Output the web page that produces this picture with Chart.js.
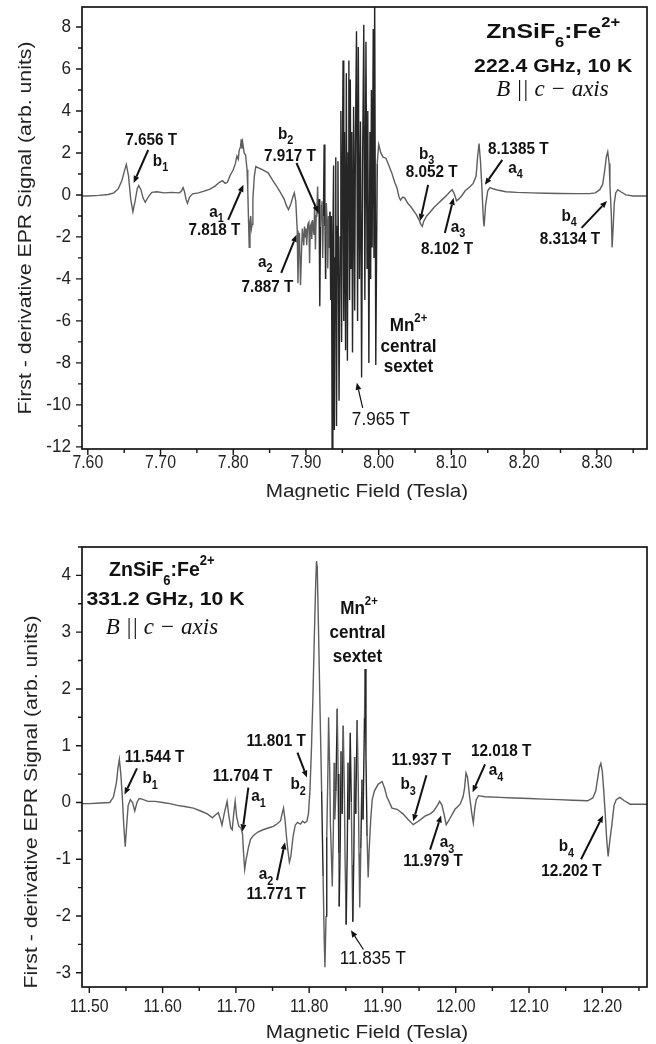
<!DOCTYPE html>
<html>
<head>
<meta charset="utf-8">
<title>ZnSiF6:Fe2+ HF-EPR spectra</title>
<script src="https://cdn.jsdelivr.net/npm/chart.js@4.4.1/dist/chart.umd.min.js"></script>
<style>
  html, body { margin: 0; padding: 0; background: #fff; }
  #wrap { position: relative; width: 656px; height: 1044px; }
  canvas { position: absolute; left: 0; }
  #spec222 { top: 0; }
  #spec331 { top: 500px; }
</style>
</head>
<body>
<div id="wrap">
  <canvas id="spec222" width="656" height="500"></canvas>
  <canvas id="spec331" width="656" height="544"></canvas>
</div>
<script>
const SANS = '"Liberation Sans", Arial, Helvetica, sans-serif';
const SERIF = '"Liberation Serif", "Times New Roman", Times, serif';

// 222.4 GHz spectrum, [field (T), first-derivative signal]
const spectrum222 = [
  [7.592,-0.05],[7.600,-0.05],[7.615,-0.02],[7.628,0.02],[7.636,0.1],[7.642,0.3],[7.647,0.7],[7.650,1.1],
  [7.653,1.45],[7.656,0.9],[7.659,-0.2],[7.662,-0.8],[7.665,-0.3],[7.668,0.3],[7.670,0.45],[7.673,0.25],
  [7.676,-0.15],[7.679,-0.35],[7.683,-0.1],[7.688,0.12],[7.695,0.15],[7.705,0.1],[7.715,0.12],[7.726,0.1],
  [7.729,0.2],[7.731,0.35],[7.733,0.15],[7.735,-0.2],[7.737,-0.4],[7.740,-0.1],[7.744,0.05],[7.752,0.1],
  [7.760,0.18],[7.768,0.28],[7.775,0.42],[7.781,0.6],[7.785,0.68],[7.789,0.55],[7.792,0.6],[7.796,0.95],
  [7.800,1.2],[7.803,1.5],[7.805,1.85],[7.807,1.7],[7.808,2.1],[7.810,2.3],[7.811,2.65],[7.812,2.2],
  [7.813,2.5],[7.815,2.0],[7.817,1.9],[7.819,1.2],[7.820,0.2],[7.821,-1.2],[7.822,-2.5],[7.823,-1.3],
  [7.824,-1.0],[7.825,-1.6],[7.826,-1.4],[7.827,-0.2],[7.829,0.9],[7.831,1.35],[7.834,1.3],[7.840,1.2],
  [7.848,1.05],[7.854,0.7],[7.860,0.4],[7.866,0.05],[7.870,-0.2],[7.873,-0.5],[7.876,-0.7],[7.879,-0.45],
  [7.882,-0.1],[7.884,0.1],[7.886,-0.3],[7.888,-1.7],[7.889,-4.2],[7.890,-2.2],[7.891,-1.8],[7.8925,-4.3],
  [7.894,-2.6],[7.895,-1.6],[7.897,-2.4],[7.898,-1.5],[7.899,-2.0],[7.900,-1.6],[7.901,-2.4],[7.9025,-1.4],
  [7.904,-1.3],[7.905,-3.25],[7.906,-1.5],[7.907,-1.4],[7.908,-2.1],[7.909,-1.2],[7.910,-1.6],[7.911,-1.9],
  [7.912,-0.4],[7.913,-2.6],[7.914,-1.0],[7.915,-0.8],[7.916,0.4],[7.917,-0.9],[7.918,-0.2],[7.919,-5.3],
  [7.920,-1.5],[7.921,-0.5],[7.922,-0.3],[7.923,-3.0],[7.924,-1.0],[7.925,2.4],[7.926,-1.5],[7.927,-4.0],
  [7.928,-0.4],[7.929,-1.2],[7.930,-3.5],[7.931,-1.0],[7.932,-2.5],[7.933,-0.8],[7.934,-5.0],[7.935,-1.0],
  [7.936,-12.1],[7.937,-2.0],[7.938,1.4],[7.939,-11.2],[7.940,-3.0],[7.941,1.8],[7.942,-11.0],[7.943,-1.5],
  [7.944,1.6],[7.9455,-9.8],[7.947,-2.0],[7.948,4.0],[7.949,-7.0],[7.950,1.0],[7.951,6.4],[7.952,-6.0],
  [7.953,3.0],[7.9545,-7.4],[7.9555,5.8],[7.957,-7.9],[7.958,2.0],[7.959,6.4],[7.960,-5.0],[7.961,5.5],
  [7.962,-3.5],[7.963,3.0],[7.964,-7.5],[7.9655,4.2],[7.967,-5.5],[7.968,2.5],[7.9695,7.8],[7.971,-6.0],
  [7.972,7.05],[7.9735,-4.0],[7.975,3.5],[7.9765,-8.7],[7.978,2.0],[7.9795,8.1],[7.981,-5.0],[7.9825,7.3],
  [7.984,-3.5],[7.985,4.0],[7.9865,-8.0],[7.988,3.0],[7.989,-4.0],[7.990,5.0],[7.991,-2.5],[7.9925,7.9],
  [7.9935,-3.0],[7.9945,9.6],[7.996,-8.1],[7.998,1.5],[8.000,2.4],[8.003,2.0],[8.006,1.8],[8.010,1.75],
  [8.014,1.4],[8.018,1.05],[8.022,0.6],[8.025,0.35],[8.028,-0.1],[8.030,-0.25],[8.033,-0.1],[8.036,-0.15],
  [8.040,-0.4],[8.044,-0.55],[8.048,-0.75],[8.052,-0.95],[8.055,-1.15],[8.058,-1.4],[8.060,-1.5],[8.062,-1.25],
  [8.066,-1.0],[8.070,-0.85],[8.076,-0.6],[8.082,-0.4],[8.088,-0.2],[8.094,0.0],[8.098,0.15],[8.101,0.25],
  [8.104,0.05],[8.107,-0.28],[8.110,-0.2],[8.114,-0.05],[8.119,0.2],[8.125,0.38],[8.130,0.55],[8.134,0.9],
  [8.136,1.8],[8.138,2.45],[8.140,1.6],[8.142,0.3],[8.144,-1.2],[8.145,-1.5],[8.147,-0.5],[8.150,0.2],
  [8.153,0.35],[8.158,0.28],[8.165,0.22],[8.175,0.15],[8.190,0.12],[8.210,0.1],[8.230,0.08],[8.250,0.07],
  [8.270,0.06],[8.290,0.06],[8.298,0.1],[8.304,0.25],[8.308,0.5],[8.311,1.2],[8.313,1.8],[8.315,2.05],
  [8.317,1.5],[8.318,0.5],[8.320,-1.0],[8.321,-2.5],[8.3225,-1.5],[8.324,-0.4],[8.326,0.1],[8.329,0.25],
  [8.333,0.15],[8.340,0.0],[8.350,-0.05],[8.369,-0.05]
];

// 331.2 GHz spectrum, [field (T), first-derivative signal]
const spectrum331 = [
  [11.490,-0.02],[11.500,-0.02],[11.515,-0.01],[11.528,0.0],[11.533,0.1],[11.537,0.35],[11.539,0.6],[11.541,0.76],
  [11.543,0.5],[11.545,0.1],[11.547,-0.4],[11.549,-0.78],[11.551,-0.4],[11.553,-0.05],[11.556,0.05],[11.559,0.0],
  [11.562,-0.15],[11.565,0.0],[11.568,0.07],[11.572,0.06],[11.580,0.02],[11.590,0.02],[11.600,0.0],[11.610,-0.02],
  [11.620,-0.05],[11.630,-0.07],[11.642,-0.1],[11.652,-0.15],[11.661,-0.2],[11.668,-0.27],[11.672,-0.22],[11.676,-0.18],
  [11.679,-0.3],[11.681,-0.4],[11.684,-0.2],[11.688,0.02],[11.690,-0.2],[11.693,-0.45],[11.695,-0.48],[11.697,-0.2],
  [11.699,0.02],[11.701,-0.25],[11.704,-0.42],[11.707,-0.45],[11.709,-0.55],[11.7105,-0.9],[11.712,-1.18],[11.714,-1.0],
  [11.717,-0.8],[11.720,-0.65],[11.724,-0.58],[11.730,-0.52],[11.737,-0.48],[11.744,-0.45],[11.751,-0.42],[11.757,-0.37],
  [11.761,-0.32],[11.763,-0.2],[11.765,-0.1],[11.767,-0.3],[11.769,-0.6],[11.771,-0.85],[11.773,-1.05],[11.775,-0.95],
  [11.778,-0.6],[11.781,-0.4],[11.784,-0.35],[11.788,-0.38],[11.791,-0.33],[11.794,-0.36],[11.797,-0.33],[11.799,-0.2],
  [11.801,0.2],[11.803,0.9],[11.805,1.8],[11.807,2.9],[11.809,3.9],[11.810,4.25],[11.811,4.15],[11.8125,3.2],
  [11.814,2.2],[11.8155,1.2],[11.817,0.2],[11.819,-1.3],[11.8205,-2.4],[11.8215,-2.9],[11.823,-2.0],[11.824,-0.6],
  [11.8255,0.5],[11.8265,1.5],[11.828,0.6],[11.829,-0.4],[11.8305,-1.0],[11.8315,-1.48],[11.833,-0.5],[11.834,0.7],
  [11.835,-0.3],[11.8365,0.2],[11.8383,1.65],[11.8395,0.5],[11.8405,-0.9],[11.841,-1.83],[11.8425,-0.6],[11.8435,0.9],
  [11.845,-0.2],[11.8465,1.35],[11.848,0.2],[11.849,-1.0],[11.8505,-2.15],[11.852,-0.8],[11.853,0.7],[11.8545,-0.3],
  [11.856,1.23],[11.8575,0.0],[11.8585,-1.1],[11.8595,-2.1],[11.861,-0.9],[11.862,0.8],[11.8635,-0.2],[11.8655,1.45],
  [11.867,0.3],[11.868,-0.9],[11.869,-1.85],[11.8705,-0.8],[11.872,0.4],[11.8735,-0.3],[11.8755,1.5],[11.8765,2.35],
  [11.8775,0.8],[11.879,-0.6],[11.8805,-1.32],[11.882,-0.8],[11.884,-0.3],[11.886,0.05],[11.889,0.2],[11.894,0.32],
  [11.8995,0.37],[11.903,0.25],[11.906,0.1],[11.913,-0.1],[11.920,-0.12],[11.928,-0.2],[11.935,-0.3],[11.942,-0.39],
  [11.949,-0.33],[11.958,-0.24],[11.965,-0.2],[11.970,-0.15],[11.975,-0.05],[11.978,0.02],[11.981,-0.04],[11.984,-0.2],
  [11.987,-0.39],[11.990,-0.33],[11.993,-0.26],[11.999,-0.12],[12.006,-0.03],[12.010,0.1],[12.012,0.25],[12.014,0.52],
  [12.016,0.45],[12.019,0.1],[12.022,-0.2],[12.024,-0.36],[12.026,-0.1],[12.028,0.05],[12.031,0.12],[12.040,0.1],
  [12.060,0.09],[12.080,0.08],[12.100,0.07],[12.120,0.06],[12.140,0.05],[12.160,0.04],[12.180,0.03],[12.187,0.08],
  [12.191,0.2],[12.194,0.45],[12.196,0.62],[12.198,0.69],[12.200,0.55],[12.202,0.2],[12.204,-0.2],[12.206,-0.65],
  [12.208,-0.95],[12.210,-0.7],[12.213,-0.4],[12.216,-0.05],[12.219,0.05],[12.224,0.09],[12.230,0.03],[12.238,-0.03],
  [12.261,-0.03]
];

// axis ticks
const field222Ticks = [7.60, 7.70, 7.80, 7.90, 8.00, 8.10, 8.20, 8.30];
const signal222Ticks = [-12, -10, -8, -6, -4, -2, 0, 2, 4, 6, 8];
const field331Ticks = [11.50, 11.60, 11.70, 11.80, 11.90, 12.00, 12.10, 12.20];
const signal331Ticks = [-3, -2, -1, 0, 1, 2, 3, 4];

// line assignments: [text, field, signal, style]; "_" = subscript, "^" = superscript
const labels222 = [
  ['7.656 T', 7.687, 2.62, 'tag'], ['b_1', 7.700, 1.62, 'tag'],
  ['a_1', 7.777, -0.81, 'tag'], ['7.818 T', 7.774, -1.67, 'tag'],
  ['b_2', 7.872, 2.90, 'tag'], ['7.917 T', 7.878, 1.86, 'tag'],
  ['a_2', 7.844, -3.19, 'tag'], ['7.887 T', 7.847, -4.38, 'tag'],
  ['b_3', 8.066, 1.95, 'tag'], ['8.052 T', 8.073, 1.10, 'tag'],
  ['a_3', 8.109, -1.52, 'tag'], ['8.102 T', 8.094, -2.57, 'tag'],
  ['8.1385 T', 8.192, 2.19, 'tag'], ['a_4', 8.188, 1.29, 'tag'],
  ['b_4', 8.262, -1.0, 'tag'], ['8.3134 T', 8.263, -2.10, 'tag'],
  ['Mn^2+', 8.041, -6.24, 'mn'], ['central', 8.041, -7.24, 'mn'], ['sextet', 8.041, -8.19, 'mn'],
  ['7.965 T', 8.003, -10.71, 'plain'],
  ['ZnSiF_6:Fe^2+', 8.240, 7.76, 'titleWide'],
  ['222.4 GHz, 10 K', 8.240, 6.10, 'cond'],
  ['B || c \u2212 axis', 8.239, 5.0, 'orient']
];
// arrows: [from field, from signal, to field, to signal, weight]
const arrows222 = [
  [7.683, 2.14, 7.663, 0.57, 'bold'], [7.793, -1.19, 7.814, 0.48, 'bold'],
  [7.887, 1.52, 7.917, -0.86, 'bold'], [7.866, -3.71, 7.887, -1.90, 'bold'],
  [8.068, 0.48, 8.057, -1.24, 'bold'], [8.091, -1.81, 8.103, -0.14, 'bold'],
  [8.170, 1.67, 8.146, 0.48, 'bold'], [8.279, -1.57, 8.314, -0.29, 'bold'],
  [7.978, -10.14, 7.970, -8.95, 'thin']
];

const labels331 = [
  ['11.544 T', 11.589, 0.79, 'tag'], ['b_1', 11.583, 0.42, 'tag'],
  ['11.704 T', 11.709, 0.46, 'tag'], ['a_1', 11.731, 0.11, 'tag'],
  ['11.801 T', 11.755, 1.07, 'tag'], ['b_2', 11.785, 0.32, 'tag'],
  ['a_2', 11.741, -1.27, 'tag'], ['11.771 T', 11.755, -1.62, 'tag'],
  ['11.937 T', 11.953, 0.74, 'tag'], ['b_3', 11.935, 0.32, 'tag'],
  ['12.018 T', 12.062, 0.90, 'tag'], ['a_4', 12.055, 0.56, 'tag'],
  ['a_3', 11.988, -0.70, 'tag'], ['11.979 T', 11.969, -1.04, 'tag'],
  ['b_4', 12.151, -0.77, 'tag'], ['12.202 T', 12.158, -1.21, 'tag'],
  ['Mn^2+', 11.868, 3.40, 'mn'], ['central', 11.866, 2.99, 'mn'], ['sextet', 11.866, 2.57, 'mn'],
  ['11.835 T', 11.887, -2.76, 'plain'],
  ['ZnSiF_6:Fe^2+', 11.599, 4.10, 'title'],
  ['331.2 GHz, 10 K', 11.604, 3.56, 'cond'],
  ['B || c \u2212 axis', 11.599, 3.08, 'orient']
];
const arrows331 = [
  [11.565, 0.60, 11.548, 0.14, 'bold'], [11.717, 0.26, 11.709, -0.51, 'bold'],
  [11.784, 0.88, 11.797, 0.44, 'bold'], [11.756, -1.37, 11.767, -0.70, 'bold'],
  [11.960, 0.48, 11.942, -0.33, 'bold'], [12.040, 0.67, 12.023, 0.18, 'bold'],
  [11.965, -0.83, 11.980, -0.23, 'bold'], [12.171, -1.0, 12.201, -0.23, 'bold'],
  [11.874, -2.59, 11.857, -2.25, 'thin']
];

const textStyles = {
  tag:       { weight: 'bold',   size: 17, family: SANS,  sx: 0.9,  sub: 0.42 },
  plain:     { weight: 'normal', size: 18, family: SANS,  sx: 0.95, sub: 0.42 },
  mn:        { weight: 'bold',   size: 18, family: SANS,  sx: 0.95, sub: 0.42 },
  title:     { weight: 'bold',   size: 21, family: SANS,  sx: 0.93, sub: 0.55 },
  titleWide: { weight: 'bold',   size: 21, family: SANS,  sx: 1.18, sub: 0.55 },
  cond:      { weight: 'bold',   size: 18, family: SANS,  sx: 1.18, sub: 0.42 },
  orient:    { weight: 'normal', size: 23, family: SERIF, sx: 1,    sub: 0.42, italic: true }
};

function parseRich(s) {
  const parts = [];
  let buf = '';
  for (let i = 0; i < s.length; i++) {
    const c = s[i];
    if (c === '_') {
      if (buf) parts.push({ t: buf, k: 0 });
      buf = '';
      parts.push({ t: s[i + 1], k: 1 });
      i++;
    } else if (c === '^') {
      if (buf) parts.push({ t: buf, k: 0 });
      buf = '';
      parts.push({ t: s.slice(i + 1), k: -1 });
      break;
    } else {
      buf += c;
    }
  }
  if (buf) parts.push({ t: buf, k: 0 });
  return parts;
}

function fontFor(st, size) {
  return `${st.italic ? 'italic ' : ''}${st.weight} ${size}px ${st.family}`;
}

function drawRich(ctx, text, x, y, st) {
  const parts = parseRich(text);
  const small = Math.round(st.size * 0.68);
  let total = 0;
  parts.forEach(p => {
    ctx.font = fontFor(st, p.k === 0 ? st.size : small);
    p.w = ctx.measureText(p.t).width;
    total += p.w;
  });
  ctx.save();
  ctx.translate(x, y);
  ctx.scale(st.sx, 1);
  ctx.textAlign = 'left';
  ctx.textBaseline = 'middle';
  let cx = -total / 2;
  parts.forEach(p => {
    ctx.font = fontFor(st, p.k === 0 ? st.size : small);
    const dy = p.k === 1 ? st.sub * st.size : p.k === -1 ? -0.42 * st.size : 0;
    ctx.fillText(p.t, cx, dy);
    cx += p.w;
  });
  ctx.restore();
}

function drawArrow(ctx, x1, y1, x2, y2, weight) {
  const w = weight === 'bold' ? 2 : 1.2;
  const head = 7;
  const ang = Math.atan2(y2 - y1, x2 - x1);
  const bx = x2 - head * Math.cos(ang), by = y2 - head * Math.sin(ang);
  ctx.lineWidth = w;
  ctx.beginPath();
  ctx.moveTo(x1, y1);
  ctx.lineTo(bx, by);
  ctx.stroke();
  const hw = head * 0.42;
  ctx.beginPath();
  ctx.moveTo(x2, y2);
  ctx.lineTo(bx + hw * Math.sin(ang), by - hw * Math.cos(ang));
  ctx.lineTo(bx - hw * Math.sin(ang), by + hw * Math.cos(ang));
  ctx.closePath();
  ctx.fill();
}

function minorTicks(major, min, max) {
  const step = major[1] - major[0];
  return [major[0] - step / 2].concat(major.map(v => v + step / 2))
    .filter(v => v >= min - 1e-9 && v <= max + 1e-9);
}

function stretchedText(ctx, text, x, y, font, sx, rotate, align) {
  ctx.save();
  ctx.translate(x, y);
  if (rotate) ctx.rotate(-Math.PI / 2);
  ctx.scale(sx, 1);
  ctx.font = font;
  ctx.textAlign = align || 'center';
  ctx.textBaseline = 'middle';
  ctx.fillText(text, 0, 0);
  ctx.restore();
}

// frame, ticks, axis text and line assignments
function decorations(panel) {
  return {
    id: 'decorations',
    afterDraw(chart) {
      const ctx = chart.ctx;
      const a = chart.chartArea;
      const xs = chart.scales.x, ys = chart.scales.y;
      ctx.save();
      ctx.strokeStyle = '#161616';
      ctx.fillStyle = '#161616';
      ctx.lineWidth = 1.7;
      ctx.strokeRect(a.left, a.top, a.right - a.left, a.bottom - a.top);

      ctx.lineWidth = 1.4;
      ctx.beginPath();
      panel.xTicks.forEach(v => {
        const p = xs.getPixelForValue(v);
        ctx.moveTo(p, a.bottom); ctx.lineTo(p, a.bottom + 6);
      });
      minorTicks(panel.xTicks, panel.xMin, panel.xMax).forEach(v => {
        const p = xs.getPixelForValue(v);
        ctx.moveTo(p, a.bottom); ctx.lineTo(p, a.bottom + 4);
      });
      panel.yTicks.forEach(v => {
        const p = ys.getPixelForValue(v);
        ctx.moveTo(a.left, p); ctx.lineTo(a.left - 6, p);
      });
      minorTicks(panel.yTicks, panel.yMin, panel.yMax).forEach(v => {
        const p = ys.getPixelForValue(v);
        ctx.moveTo(a.left, p); ctx.lineTo(a.left - 4, p);
      });
      ctx.stroke();

      ctx.fillStyle = '#222';
      const tickFont = `18px ${SANS}`;
      panel.xTicks.forEach(v => stretchedText(ctx, v.toFixed(2), xs.getPixelForValue(v),
        a.bottom + panel.xLabelGap, tickFont, 0.88, false));
      panel.yTicks.forEach(v => stretchedText(ctx, String(v), a.left - 11,
        ys.getPixelForValue(v), tickFont, 0.95, false, 'right'));

      stretchedText(ctx, 'Magnetic Field (Tesla)', panel.xTitle[0], panel.xTitle[1], `18px ${SANS}`, 1.15, false);
      stretchedText(ctx, 'First - derivative EPR Signal (arb. units)', panel.yTitle[0], panel.yTitle[1], `18px ${SANS}`, 1.18, true);

      ctx.fillStyle = '#111';
      ctx.strokeStyle = '#111';
      panel.arrows.forEach(([fx, fy, tx, ty, w]) => {
        drawArrow(ctx, xs.getPixelForValue(fx), ys.getPixelForValue(fy),
          xs.getPixelForValue(tx), ys.getPixelForValue(ty), w);
      });
      panel.labels.forEach(([text, fx, fy, style]) => {
        drawRich(ctx, text, xs.getPixelForValue(fx), ys.getPixelForValue(fy), textStyles[style]);
      });
      ctx.restore();
    }
  };
}

function buildPanel(canvasId, panel) {
  return new Chart(document.getElementById(canvasId), {
    type: 'line',
    data: {
      datasets: [{
        data: panel.trace.map(p => ({ x: p[0], y: p[1] })),
        borderColor: '#5e5e5e',
        borderWidth: 1.4,
        pointRadius: 0,
        tension: 0,
        fill: false,
        // the steep hyperfine lines print darker
        segment: {
          borderColor: c => Math.abs(c.p1.parsed.y - c.p0.parsed.y) > panel.steep ? '#262626' : '#5e5e5e'
        }
      }]
    },
    options: {
      responsive: false,
      animation: false,
      events: [],
      layout: { padding: panel.padding },
      plugins: { legend: { display: false }, tooltip: { enabled: false } },
      scales: {
        x: { type: 'linear', min: panel.xMin, max: panel.xMax, display: false },
        y: { type: 'linear', min: panel.yMin, max: panel.yMax, display: false }
      }
    },
    plugins: [decorations(panel)]
  });
}

buildPanel('spec222', {
  trace: spectrum222, steep: 3,
  xMin: 7.592, xMax: 8.369, yMin: -12.1, yMax: 8.95,
  xTicks: field222Ticks, yTicks: signal222Ticks,
  padding: { left: 82, top: 7, right: 9, bottom: 51 },
  xLabelGap: 14, xTitle: [367, 492], yTitle: [26, 228],
  labels: labels222, arrows: arrows222
});

buildPanel('spec331', {
  trace: spectrum331, steep: 1.2,
  xMin: 11.490, xMax: 12.261, yMin: -3.25, yMax: 4.5,
  xTicks: field331Ticks, yTicks: signal331Ticks,
  padding: { left: 82, top: 47, right: 9, bottom: 57 },
  xLabelGap: 20, xTitle: [367, 533], yTitle: [32, 302],
  labels: labels331, arrows: arrows331
});
</script>
</body>
</html>
